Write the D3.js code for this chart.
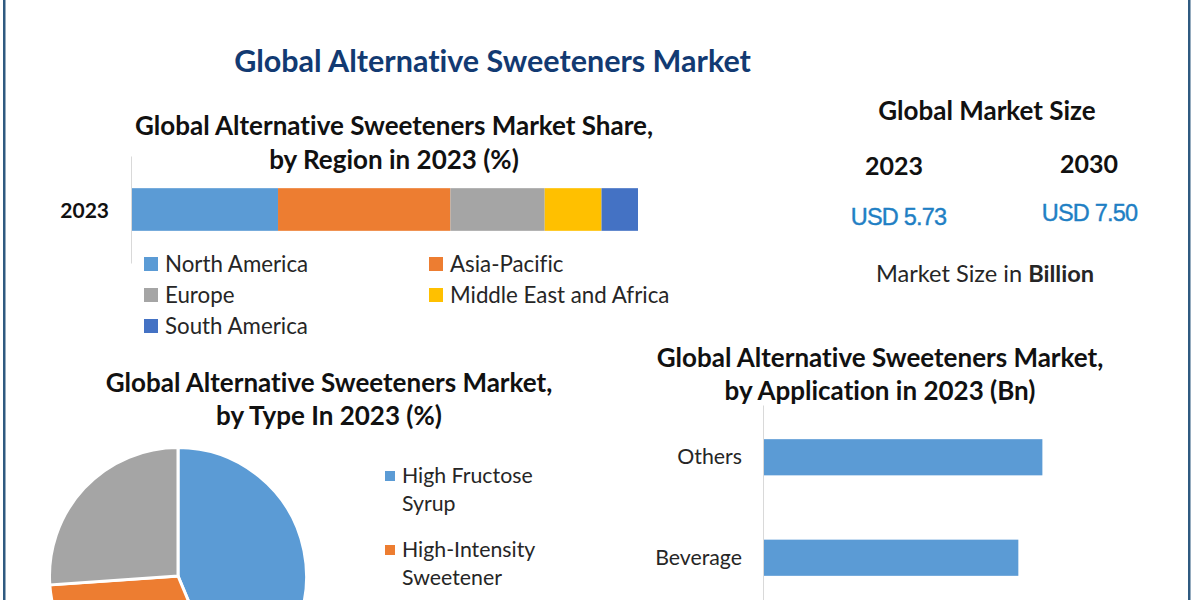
<!DOCTYPE html>
<html>
<head>
<meta charset="utf-8">
<script src="https://cdn.jsdelivr.net/npm/d3@7"></script>
<style>
  html, body { margin: 0; padding: 0; background: #fff; overflow: hidden; }
  svg { display: block; }
  text { font-family: Lato, "Noto Sans", sans-serif; fill: #111; font-variant-ligatures: none; }
  .head { font-weight: 700; font-size: 26px; }
  .big { font-weight: 700; font-size: 25px; }
  .leg { font-size: 22.3px; fill: #262626; }
  .usd { font-family: "Liberation Sans", sans-serif; font-size: 23.5px; fill: #1f7fc4; stroke: #1f7fc4; stroke-width: 0.4px; letter-spacing: -0.8px; }
</style>
</head>
<body>
<svg id="chart" width="1200" height="600"></svg>
<script>
var regions = ["North America", "Asia-Pacific", "Europe", "Middle East and Africa", "South America"];
var regionShare = [29, 34, 18.6, 11.2, 7.2];
var regionColors = ["#5b9bd5", "#ed7d31", "#a5a5a5", "#ffc000", "#4472c4"];
var regionYears = ["2023"];

var typeShare = [43.7, 30.2, 26.1];
var typeColors = ["#5b9bd5", "#ed7d31", "#a5a5a5"];

var applications = ["Others", "Beverage"];
var applicationValues = [1.22, 1.115];

var svg = d3.select('#chart');

function label(x, y, str, cls, anchor) {
  return svg.append('text')
    .attr('x', x).attr('y', y - 1)
    .attr('class', cls)
    .attr('text-anchor', anchor || 'middle')
    .attr('dominant-baseline', 'central')
    .text(str);
}

// frame, only the two sides show
svg.append('rect').attr('x', 3).attr('y', 0).attr('width', 2.5).attr('height', 600).attr('fill', '#2f5a80');
svg.append('rect').attr('x', 1188).attr('y', 0).attr('width', 2.5).attr('height', 600).attr('fill', '#2f5a80');

label(492.5, 61, 'Global Alternative Sweeteners Market', 'head')
  .style('font-size', '30.5px').style('fill', '#123a72');

// region stacked bar
label(394, 125.5, 'Global Alternative Sweeteners Market Share,', 'head');
label(394, 159.5, 'by Region in 2023 (%)', 'head');

var row = {};
regions.forEach(function(r, i) { row[r] = regionShare[i]; });
var stacked = d3.stack().keys(regions)([row]);

var xShare = d3.scaleLinear().domain([0, 100]).range([131, 638]);
var yYear = d3.scaleBand().domain(regionYears).range([156, 263]).padding(0.43);

svg.append('g').selectAll('rect')
  .data(stacked)
  .enter()
  .append('rect')
  .attr('x', d => xShare(d[0][0]))
  .attr('y', yYear('2023'))
  .attr('width', d => xShare(d[0][1]) - xShare(d[0][0]))
  .attr('height', yYear.bandwidth())
  .attr('fill', (d, i) => regionColors[i]);

var yearAxis = svg.append('g')
  .attr('transform', 'translate(131,0)')
  .call(d3.axisLeft(yYear).tickSize(0).tickPadding(22));
yearAxis.select('.domain').attr('stroke', '#d9d9d9');
yearAxis.selectAll('text').attr('class', 'big').attr('y', 1.5).style('font-size', '21px').style('font-family', 'Lato');

var regionLegend = [[144, 264], [429, 264], [144, 295], [429, 295], [144, 326]];
regions.forEach(function(r, i) {
  var p = regionLegend[i];
  svg.append('rect').attr('x', p[0]).attr('y', p[1] - 7).attr('width', 14).attr('height', 14).attr('fill', regionColors[i]);
  label(p[0] + 21, p[1], r, 'leg', 'start');
});

// market size block
label(987, 111, 'Global Market Size', 'head');
label(894, 166, '2023', 'big');
label(1089, 164, '2030', 'big');
label(898.5, 218, 'USD 5.73', 'usd');
label(1089.5, 214, 'USD 7.50', 'usd');
var ms = label(985, 274, 'Market Size in ', 'leg').style('font-size', '23.6px');
ms.append('tspan').attr('font-weight', 700).text('Billion');

// type pie
label(329, 383, 'Global Alternative Sweeteners Market,', 'head');
label(329, 416, 'by Type In 2023 (%)', 'head');

var pie = d3.pie().sort(null)(typeShare);
var arc = d3.arc().innerRadius(0).outerRadius(128.5);
svg.append('g')
  .attr('transform', 'translate(178,576)')
  .selectAll('path')
  .data(pie)
  .enter()
  .append('path')
  .attr('d', arc)
  .attr('fill', (d, i) => typeColors[i])
  .attr('stroke', '#fff')
  .attr('stroke-width', 3);

svg.append('rect').attr('x', 385).attr('y', 471).attr('width', 10).attr('height', 10).attr('fill', typeColors[0]);
label(402, 475.5, 'High Fructose', 'leg', 'start').style('font-size', '21.3px');
label(402, 503.5, 'Syrup', 'leg', 'start').style('font-size', '21.3px');
svg.append('rect').attr('x', 385).attr('y', 545).attr('width', 10).attr('height', 10).attr('fill', typeColors[1]);
label(402, 550, 'High-Intensity', 'leg', 'start').style('font-size', '21.3px');
label(402, 578, 'Sweetener', 'leg', 'start').style('font-size', '21.3px');

// application bars
label(880, 358, 'Global Alternative Sweeteners Market,', 'head');
label(880, 391, 'by Application in 2023 (Bn)', 'head');

var xApp = d3.scaleLinear().domain([0, 2]).range([763, 1221]);
var yApp = d3.scaleBand().domain(applications).range([405, 610]).paddingInner(0.64).paddingOuter(0.34);

svg.append('g').selectAll('rect')
  .data(applications)
  .enter()
  .append('rect')
  .attr('x', xApp(0))
  .attr('y', d => yApp(d))
  .attr('width', (d, i) => xApp(applicationValues[i]) - xApp(0))
  .attr('height', yApp.bandwidth())
  .attr('fill', '#5b9bd5');

var appAxis = svg.append('g')
  .attr('transform', 'translate(763,0)')
  .call(d3.axisLeft(yApp).tickSize(0).tickPadding(21));
appAxis.select('.domain').attr('stroke', '#d9d9d9');
appAxis.selectAll('text').attr('class', 'leg').style('font-size', '21.3px').style('font-family', 'Lato');
</script>
</body>
</html>
